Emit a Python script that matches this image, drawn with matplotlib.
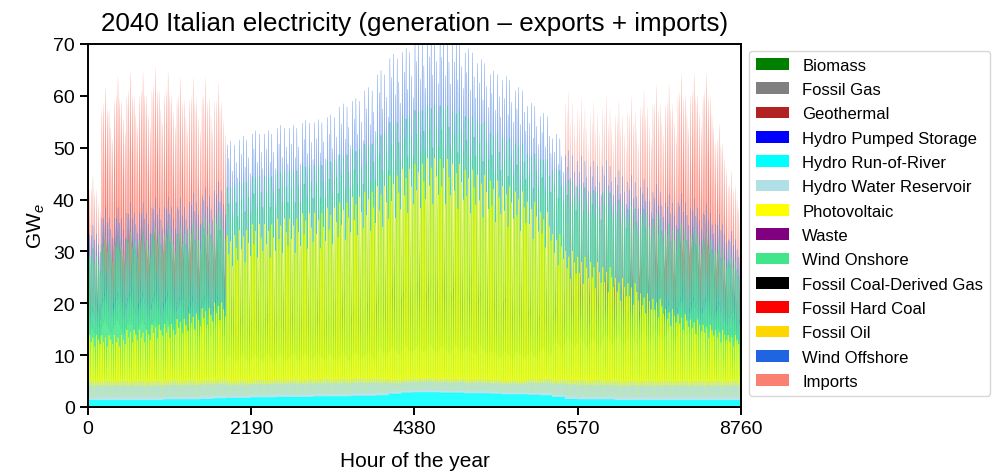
import numpy as np
import matplotlib
matplotlib.use('Agg')
import matplotlib.pyplot as plt

plt.rcParams['font.family'] = ['Liberation Sans', 'DejaVu Sans']
plt.rcParams['mathtext.fontset'] = 'custom'
plt.rcParams['mathtext.rm'] = 'Liberation Sans'
plt.rcParams['mathtext.it'] = 'Liberation Sans:italic'

labels = ['Biomass', 'Fossil Gas', 'Geothermal', 'Hydro Pumped Storage',
          'Hydro Run-of-River', 'Hydro Water Reservoir', 'Photovoltaic', 'Waste',
          'Wind Onshore', 'Fossil Coal-Derived Gas', 'Fossil Hard Coal', 'Fossil Oil',
          'Wind Offshore', 'Imports']
colors = ['green', 'gray', 'firebrick', 'blue', 'cyan', 'powderblue', 'yellow', 'purple',
          '#42e68a', 'black', 'red', 'gold', '#1f64e0', 'salmon']
# outline width and opacity per layer (lower layers dominate their daily swing)
edge_widths = [0, 0, 0, 0, 0.3, 0.3, 0.45, 0, 0.3, 0, 0, 0, 0.12, 0]
alphas = [0.85] * 13 + [1.0]

# weekly levels (GW), 52 weeks
ror_w = [1.4, 1.4, 1.4, 1.4, 1.4, 1.4, 1.5, 1.5, 1.5, 1.6, 1.7,
         1.8, 1.8, 1.9, 1.9, 2.0, 2.0, 2.0, 2.1, 2.1, 2.1, 2.2, 2.2, 2.3,
         2.6, 2.8, 2.9, 2.9, 2.8, 2.8, 2.7, 2.7, 2.6, 2.5, 2.5, 2.4, 2.3,
         2.0, 1.6, 1.5, 1.5, 1.5, 1.4, 1.4, 1.4, 1.4, 1.4, 1.4, 1.4, 1.4, 1.4, 1.4]
res_w = [2.2, 2.2, 2.2, 2.2, 2.2, 2.2, 2.2, 2.2, 2.2, 2.2, 2.2,
         2.0, 2.0, 2.0, 2.0, 2.0, 2.0, 2.0, 2.0, 2.0, 2.0, 2.0, 2.0, 1.9,
         1.6, 1.6, 1.6, 1.6, 1.6, 1.6, 1.6, 1.6, 1.6, 1.6, 1.6, 1.8, 1.9,
         2.0, 2.2, 2.2, 2.2, 2.2, 2.2, 2.2, 2.2, 2.2, 2.2, 2.2, 2.2, 2.2, 2.2, 2.2]
pv_w = [11, 11, 11, 12, 12, 13, 13, 14, 15, 16, 17,
        30, 31, 32, 32, 33, 33, 34, 34, 35, 36, 37, 38, 39,
        41, 42, 43, 44, 44, 43, 42, 41, 40, 39, 38, 36, 34,
        30, 27, 26, 25, 24, 22, 21, 19, 18, 16, 15, 14, 13, 12, 11]
won_w = [15, 17, 17, 17, 17, 17, 17, 16, 16, 16, 16,
         9, 9, 9, 9, 9, 9, 9, 9, 9, 9, 9, 9, 10,
         10, 10, 10, 10, 10, 10, 10, 10, 9, 9, 9, 9, 10,
         12, 13, 13, 13, 14, 14, 14, 15, 15, 15, 16, 16, 16, 15, 14]
woff_w = [4, 5, 5, 5, 5, 5, 5, 5, 5, 5, 5,
          8, 8, 8, 8, 8, 8, 8, 8, 8, 9, 9, 10, 11,
          12, 12, 13, 13, 13, 13, 12, 11, 11, 11, 10, 9, 8,
          6, 5, 5, 5, 5, 5, 5, 5, 5, 5, 5, 5, 5, 5, 4]
imp_w = [10, 24, 26, 26, 26, 26, 25, 24, 23, 22, 20,
         0, 0, 0, 0, 0, 0, 0, 0, 0, 0, 0, 0, 0,
         0, 0, 0, 0, 0, 0, 0, 0, 0, 0, 0, 0, 0,
         0, 12, 12, 12, 13, 14, 16, 18, 20, 22, 24, 25, 26, 18, 12]

# hourly shapes (fraction of the weekly level)
solar_shape = [0, 0, 0, 0, 0, 0, 0.05, 0.2, 0.42, 0.64, 0.82, 0.95,
               1.0, 0.95, 0.82, 0.64, 0.42, 0.2, 0.05, 0, 0, 0, 0, 0]
load_shape = [0.55, 0.5, 0.48, 0.47, 0.48, 0.52, 0.62, 0.78, 0.92, 0.98, 1.0, 1.0,
              0.97, 0.95, 0.96, 0.98, 1.0, 1.0, 0.98, 0.95, 0.88, 0.78, 0.68, 0.6]
wind_shape = [0.9, 0.9, 0.88, 0.86, 0.86, 0.88, 0.92, 0.96, 1.0, 1.05, 1.1, 1.12,
              1.14, 1.15, 1.15, 1.12, 1.08, 1.04, 1.0, 0.98, 0.96, 0.94, 0.92, 0.9]
res_shape = [0.4, 0.3, 0.3, 0.3, 0.3, 0.4, 0.8, 1.2, 1.3, 1.0, 0.8, 0.7,
             0.7, 0.7, 0.8, 0.9, 1.1, 1.4, 1.6, 1.7, 1.6, 1.3, 0.9, 0.6]
# day-of-week factors for demand/wind and for sunshine
weekday = [0.9, 0.95, 1.0, 0.95, 0.9, 0.85, 0.82]
sun_day = [1.0, 0.88, 0.96, 0.8, 1.0, 0.92, 0.84]

hours = np.arange(8760)
week = np.minimum(hours // 168, 51)
hod = hours % 24
dow = (hours // 24) % 7

wd = np.array(weekday)[dow]
ror = np.array(ror_w)[week]
res = np.array(res_w)[week] * np.array(res_shape)[hod]
pv = np.array(pv_w)[week] * np.array(solar_shape)[hod] * np.array(sun_day)[dow]
won = np.array(won_w)[week] * np.array(wind_shape)[hod] * wd
woff = np.array(woff_w)[week] * np.array(wind_shape)[hod] * wd
imp = np.array(imp_w)[week] * np.array(load_shape)[hod] * wd
zero = np.zeros(8760)

stack = [zero, zero, zero, zero, ror, res, pv, zero,
         won, zero, zero, zero, woff, imp]

fig = plt.figure(figsize=(9.94, 4.77), dpi=100)
ax = fig.add_axes([0.0885, 0.1447, 0.657, 0.7610])
polys = ax.stackplot(hours, stack, labels=labels, colors=colors)
for i, p in enumerate(polys):
    p.set_zorder(1 + (len(polys) - i) * 0.01)
    p.set_alpha(alphas[i])
    p.set_edgecolor(colors[i])
    p.set_linewidth(edge_widths[i])

ax.set_xlim(0, 8760)
ax.set_ylim(0, 70)
ax.set_xticks([0, 2190, 4380, 6570, 8760])
ax.set_yticks(range(0, 71, 10))
ax.tick_params(labelsize=14, width=1.4, length=6)
for s in ax.spines.values():
    s.set_linewidth(1.4)
ax.set_xlabel('Hour of the year', fontsize=15, labelpad=10)
ax.set_ylabel('GW$_e$', fontsize=15)
ax.set_title('2040 Italian electricity (generation \u2013 exports + imports)',
             fontsize=18.7, pad=10)
leg = ax.legend(loc='upper left', bbox_to_anchor=(1.012, 0.981), fontsize=12,
                borderaxespad=0.0, frameon=True, labelspacing=0.56)
for h in leg.legend_handles:
    h.set_linewidth(0)
    h.set_alpha(1)

fig.savefig('out.png', dpi=100)
